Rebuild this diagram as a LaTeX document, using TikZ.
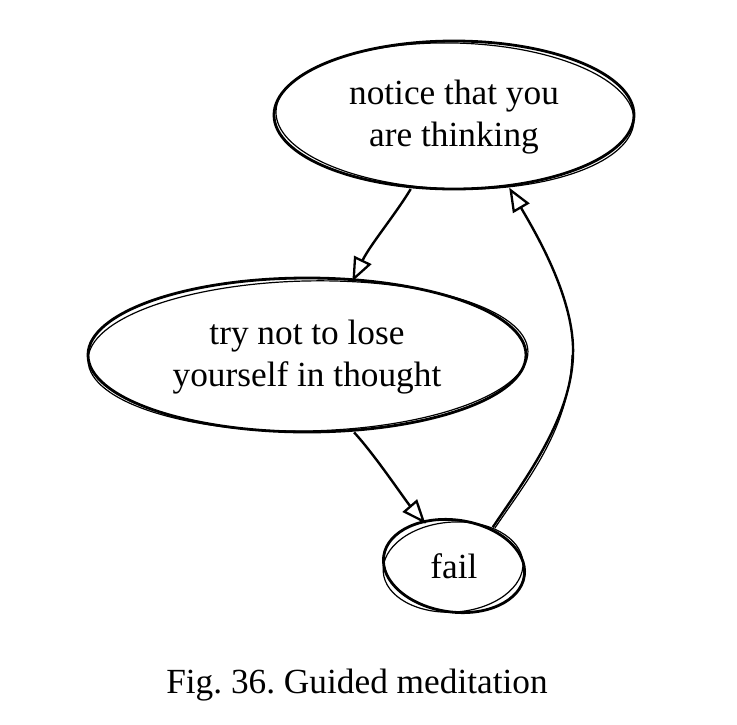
\documentclass[tikz,border=0pt]{standalone}
\usepackage{fontspec}
\setmainfont{Liberation Serif}
\usetikzlibrary{shapes.geometric,arrows.meta}
\frenchspacing
\tikzset{
  state/.style={ellipse, inner sep=0pt, align=center, font=\fontsize{35.3}{42}\selectfont},
  sketch/.style={line width=2.8pt, black},
  sketchtwo/.style={line width=1.2pt, black},
  flow/.style={line width=2.4pt, line join=round, -{Triangle[open,length=24pt,width=19pt,line width=2.3pt]}},
  caption/.style={font=\fontsize{35.3}{42}\selectfont}
}
\begin{document}
\begin{tikzpicture}[x=1pt,y=-1pt]
\useasboundingbox (0,0) rectangle (737,724);
\coordinate (topc) at (454,115);
\coordinate (midc) at (307,355);
\coordinate (failc) at (454,566);
\node[state, minimum width=360pt, minimum height=148pt] (top) at (454,117) {notice that you\\are thinking};
\node[state, minimum width=440pt, minimum height=154pt] (mid) at (307,357) {try not to lose\\yourself in thought};
\node[state, minimum width=142pt, minimum height=92pt] (fail) at (454,566) {fail};
\node[caption] (cap) at (357,685) {Fig. 36. Guided meditation};
% sketchy outlines
\draw[sketch] (topc) ellipse [x radius=180pt, y radius=74pt];
\draw[sketchtwo, rotate around={-1.5:(topc)}] ([shift={(1,1)}]topc) ellipse [x radius=179pt, y radius=73pt];
\draw[sketch] (midc) ellipse [x radius=219pt, y radius=77pt];
\draw[sketchtwo, rotate around={1.2:(midc)}] ([shift={(1,1)}]midc) ellipse [x radius=220pt, y radius=75pt];
\draw[sketch, rotate around={-8:(failc)}] (failc) ellipse [x radius=71pt, y radius=46pt];
\draw[sketchtwo, rotate around={4:(failc)}] ([shift={(-1,1)}]failc) ellipse [x radius=70pt, y radius=45pt];
% connectors
\draw[flow] (top.-121) .. controls (395,215) and (370,245) .. (mid.59);
\draw[flow] (mid.-58) .. controls (375,455) and (405,500) .. (fail.124);
\coordinate (bend) at (573,355);
\draw[flow] (fail.45) .. controls (523,482) and (571,420) .. (bend) .. controls (575,300) and (537,235) .. (top.-52);
\draw[sketchtwo] ([shift={(2,1)}]fail.45) .. controls (525,483) and (570,430) .. ([shift={(-1,0)}]bend);
\end{tikzpicture}
\end{document}
